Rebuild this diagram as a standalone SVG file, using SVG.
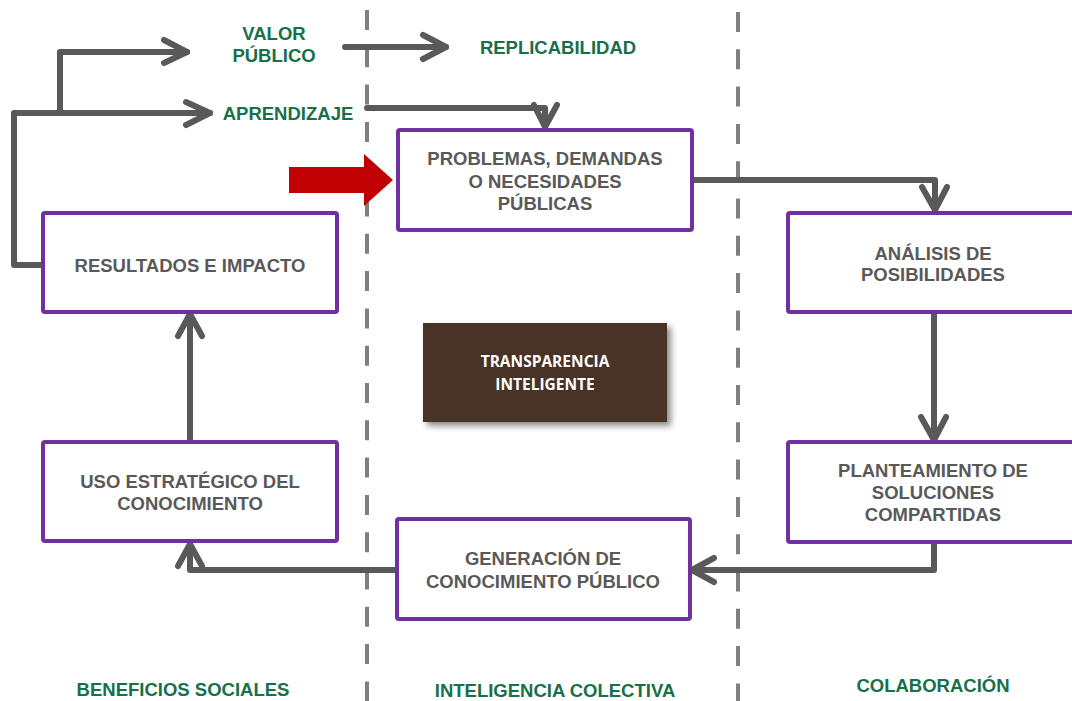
<svg xmlns="http://www.w3.org/2000/svg" width="1072" height="701" viewBox="0 0 1072 701">
<defs>
<style>
.dash{stroke:#7f7f7f;stroke-width:4;stroke-dasharray:20 17.3;fill:none}
.con{stroke:#595959;stroke-width:6;fill:none;stroke-linecap:round;stroke-linejoin:round}
.box{fill:#fff;stroke:#7030A0;stroke-width:4}
.bt{font-family:"Liberation Sans",Arial,sans-serif;font-weight:bold;font-size:18.5px;fill:#595959;text-anchor:middle}
.gt{font-family:"Liberation Sans",Arial,sans-serif;font-weight:bold;font-size:18.5px;fill:#17704A;text-anchor:middle}
.wt{font-family:"Open Sans",sans-serif;font-weight:bold;font-size:15.5px;fill:#fff;text-anchor:middle}
</style>
<filter id="sh" x="-10%" y="-10%" width="130%" height="140%">
<feDropShadow dx="4" dy="4" stdDeviation="3" flood-color="#000" flood-opacity="0.45"/>
</filter>
</defs>
<rect width="1072" height="701" fill="#fff"/>
<g id="dividers">
<line class="dash" x1="367" y1="10" x2="367" y2="701"/>
<line class="dash" x1="738" y1="12" x2="738" y2="701"/>
</g>
<g id="connectors">
<path class="con" d="M42 265 H14 V113 H210"/>
<path class="con" d="M186 102 L210 113 L186 125"/>
<path class="con" d="M60 113 V52 H187"/>
<path class="con" d="M164 40 L187 52 L164 63"/>
<path class="con" d="M345 47 H446"/>
<path class="con" d="M423 35 L446 47 L423 59"/>
<path class="con" d="M367 108 H545 V127"/>
<path class="con" d="M534 105 L545 127 L557 105"/>
<path class="con" d="M692 180 H935 V210"/>
<path class="con" d="M922 187 L935 210 L947 187"/>
<path class="con" d="M934 312 V440"/>
<path class="con" d="M921 417 L934 440 L946 417"/>
<path class="con" d="M934 542 V570 H692"/>
<path class="con" d="M714 558 L692 570 L714 582"/>
<path class="con" d="M397 570 H190 V544"/>
<path class="con" d="M178 566 L190 544 L202 566"/>
<path class="con" d="M190 442 V314"/>
<path class="con" d="M178 336 L190 314 L202 336"/>
</g>
<g id="red-arrow">
<polygon points="289,167 364,167 364,154 393,180 364,206 364,193 289,193" fill="#C00000"/>
</g>
<g id="labels">
<text class="gt" x="274" y="40">VALOR</text>
<text class="gt" x="274" y="62">PÚBLICO</text>
<text class="gt" x="558" y="54">REPLICABILIDAD</text>
<text class="gt" x="288" y="120">APRENDIZAJE</text>
<text class="gt" x="183" y="696">BENEFICIOS SOCIALES</text>
<text class="gt" x="555" y="697">INTELIGENCIA COLECTIVA</text>
<text class="gt" x="933" y="692">COLABORACIÓN</text>
</g>
<g id="problemas">
<rect class="box" x="398" y="130" width="294" height="100" rx="2"/>
<text class="bt" x="545" y="165">PROBLEMAS, DEMANDAS</text>
<text class="bt" x="545" y="188">O NECESIDADES</text>
<text class="bt" x="545" y="210">PÚBLICAS</text>
</g>
<g id="resultados">
<rect class="box" x="43" y="213" width="294" height="99" rx="2"/>
<text class="bt" x="190" y="272">RESULTADOS E IMPACTO</text>
</g>
<g id="analisis">
<rect class="box" x="788" y="213" width="300" height="99" rx="2"/>
<text class="bt" x="933" y="260">ANÁLISIS DE</text>
<text class="bt" x="933" y="281">POSIBILIDADES</text>
</g>
<g id="transparencia">
<rect x="423" y="323" width="244" height="99" fill="#4A3128" filter="url(#sh)"/>
<text class="wt" x="545" y="367">TRANSPARENCIA</text>
<text class="wt" x="545" y="390">INTELIGENTE</text>
</g>
<g id="uso">
<rect class="box" x="43" y="442" width="294" height="99" rx="2"/>
<text class="bt" x="190" y="488">USO ESTRATÉGICO DEL</text>
<text class="bt" x="190" y="510">CONOCIMIENTO</text>
</g>
<g id="planteamiento">
<rect class="box" x="788" y="442" width="300" height="100" rx="2"/>
<text class="bt" x="933" y="477">PLANTEAMIENTO DE</text>
<text class="bt" x="933" y="499">SOLUCIONES</text>
<text class="bt" x="933" y="521">COMPARTIDAS</text>
</g>
<g id="generacion">
<rect class="box" x="397" y="519" width="293" height="100" rx="2"/>
<text class="bt" x="543" y="565">GENERACIÓN DE</text>
<text class="bt" x="543" y="588">CONOCIMIENTO PÚBLICO</text>
</g>
</svg>
